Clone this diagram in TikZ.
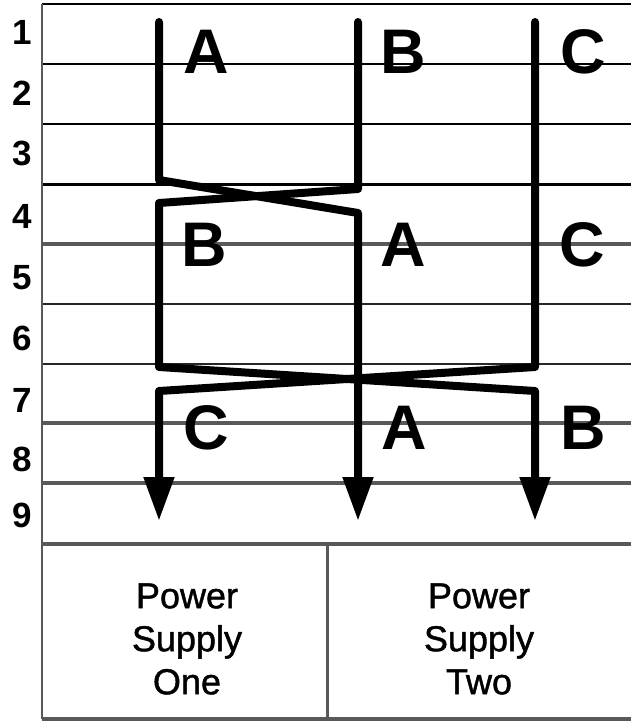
\documentclass[tikz,border=0pt]{standalone}
\usepackage{fontspec}
\setmainfont{Liberation Sans}
\newfontfamily\psufont[FakeBold=1.2]{Liberation Sans}
\usetikzlibrary{arrows.meta}
\tikzset{
  gridthin/.style={draw=black, line width=1.5pt},
  gridmid/.style={draw=black!85, line width=2pt},
  gridheavy/.style={draw=black, line width=3pt},
  gridgray/.style={draw=black!65, line width=3.2pt},
  wire/.style={line width=8pt, line join=round, line cap=round},
  wirearrow/.style={wire, -{Triangle[length=44pt, width=29pt]}},
  phase/.style={font=\fontsize{63}{63}\selectfont\bfseries, inner sep=0pt},
  rownum/.style={font=\fontsize{35}{35}\selectfont\bfseries, inner sep=0pt},
  psu/.style={font=\fontsize{36}{43}\selectfont\psufont, align=center, inner sep=0pt}
}

\begin{document}
\begin{tikzpicture}[x=1pt, y=-1pt]
  \useasboundingbox (0,0) rectangle (631,721);
  % frame of the tray
  \coordinate (tl) at (42,4);
  \coordinate (bl) at (42,719);
  \coordinate (st) at (327,544);
  \coordinate (sb) at (327,719);
  % horizontal rules
  \foreach \y/\sty in {4/gridthin, 64/gridthin, 124/gridthin, 184/gridheavy, 244/gridgray, 304/gridmid, 364/gridmid, 423/gridgray, 483/gridgray, 544/gridgray, 719/gridgray}
    \draw[\sty] (42,\y) -- (631,\y);
  \draw[gridgray, line width=2.5pt] (tl) -- (bl);
  \draw[gridgray, line width=3pt] (st) -- (sb);
  % row numbers
  \foreach \n/\y in {1/32, 2/93, 3/153, 4/216, 5/278, 6/338, 7/400, 8/459, 9/515}
    \node[rownum] (row\n) at (22,\y) {\n};
  % phase labels
  \node[phase] (a1) at (206,52) {A};
  \node[phase] (b1) at (403,52) {B};
  \node[phase] (c1) at (583,52) {C};
  \node[phase] (b2) at (204,245) {B};
  \node[phase] (a2) at (403,245) {A};
  \node[phase] (c2) at (582,245) {C};
  \node[phase] (c3) at (206,428) {C};
  \node[phase] (a3) at (404,428) {A};
  \node[phase] (b3) at (583,428) {B};
  % conductors
  \coordinate (ta) at (159,22);
  \coordinate (tb) at (358,22);
  \coordinate (tc) at (535,22);
  \coordinate (ea) at (358,521);
  \coordinate (eb) at (535,521);
  \coordinate (ec) at (159,521);
  \draw[wirearrow] (ta) -- (159,180) -- (358,213) -- (ea);
  \draw[wirearrow] (tb) -- (358,189) -- (159,203) -- (159,367) -- (535,391) -- (eb);
  \draw[wirearrow] (tc) -- (535,367) -- (159,391) -- (ec);
  % supplies
  \node[psu] (one) at (187,639) {Power\\Supply\\One};
  \node[psu] (two) at (479,639) {Power\\Supply\\Two};
\end{tikzpicture}
\end{document}
